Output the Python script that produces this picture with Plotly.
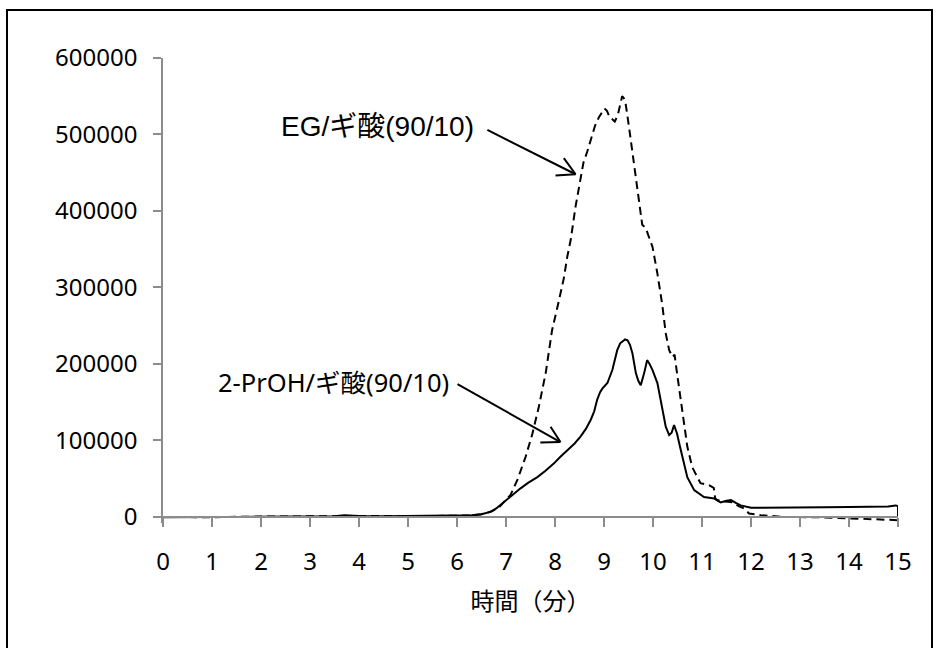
import plotly.graph_objects as go

# 2-PrOH/ギ酸(90/10) (solid)
t_proh = [0, 0.5, 1.0, 1.5, 2.0, 2.5, 3.0, 3.5, 3.7, 4.0, 4.5, 5.0, 5.5, 6.0, 6.3, 6.5,
          6.68, 6.8, 6.96, 7.1, 7.29, 7.45, 7.64, 7.8, 7.98, 8.1, 8.25, 8.4, 8.52, 8.63,
          8.73, 8.8, 8.86, 8.92, 8.97, 9.07, 9.17, 9.27, 9.33, 9.37, 9.43, 9.48, 9.53, 9.58,
          9.65, 9.70, 9.75, 9.82, 9.88, 9.93, 9.99, 10.09, 10.19, 10.26, 10.33, 10.38, 10.43,
          10.49, 10.55, 10.60, 10.70, 10.84, 11.04, 11.25, 11.38, 11.5, 11.59, 11.7, 11.79,
          12.0, 12.5, 13.0, 13.5, 14.0, 14.5, 14.8, 14.95, 15.0, 15.0]
v_proh = [-500, -800, -300, 0, 200, 500, 600, 800, 2000, 1000, 800, 1000, 1200, 1500, 2000, 3500,
          6500, 11000, 19600, 28000, 37000, 44500, 52000, 60000, 70000, 78000, 87000, 96000, 105000, 115000,
          127000, 138000, 153000, 163000, 168000, 175000, 192000, 218000, 227000, 229000, 232000, 231000, 225000, 214000,
          188000, 178000, 172000, 188000, 205000, 200000, 192000, 175000, 144000, 118000, 107000, 110000, 120000,
          109000, 92000, 78500, 52000, 35000, 26000, 24000, 19000, 21000, 22000, 18000, 15000,
          12000, 12000, 12300, 12500, 13000, 13000, 13500, 15000, 14000, -3000]

# EG/ギ酸(90/10) (dashed)
t_eg = [0, 0.5, 1, 1.5, 2, 2.5, 3, 3.5, 4, 4.5, 5, 5.5, 6, 6.3, 6.5, 6.7, 6.85, 6.96, 7.09, 7.23,
        7.40, 7.54, 7.67, 7.81, 7.94, 8.07, 8.18, 8.25, 8.32, 8.42, 8.52, 8.58, 8.66, 8.73, 8.82,
        8.90, 8.96, 9.01, 9.06, 9.12, 9.17, 9.22, 9.28, 9.33, 9.37, 9.40, 9.44, 9.51, 9.58, 9.65,
        9.71, 9.78, 9.85, 9.92, 9.99, 10.09, 10.19, 10.26, 10.33, 10.40, 10.44, 10.49, 10.56, 10.63,
        10.70, 10.80, 10.97, 11.14, 11.24, 11.27, 11.31, 11.45, 11.59, 11.75, 11.86, 11.96, 12.2,
        12.67, 13.35, 14.04, 14.5, 15.0]
v_eg = [0, -500, -600, 200, 500, 300, 800, 1000, 1500, 1200, 800, 1000, 1300, 1800, 3500, 7000, 12000, 19600, 28400, 48000,
        78500, 109000, 144000, 188000, 244000, 280000, 312000, 340000, 362000, 406000, 440000, 463000, 478000, 493000, 512000,
        523000, 530000, 534000, 531000, 522000, 520000, 517000, 525000, 540000, 550000, 548000, 541000, 510000, 476000, 445000,
        414000, 382000, 378000, 365000, 353000, 318000, 277000, 240000, 218000, 209000, 212000, 188000, 157000, 122000,
        92000, 65000, 44000, 41500, 38000, 24000, 22000, 20000, 19600, 14000, 11000, 4400, 2200,
        0, -500, -2000, -3000, -4300]

x_ticks = list(range(0, 16))
y_ticks = [0, 100000, 200000, 300000, 400000, 500000, 600000]
y_ticklabels = ["0", "100000", "200000", "300000", "400000", "500000", "600000"]

label_eg = "EG/ギ酸(90/10)"
label_proh = "2-PrOH/ギ酸(90/10)"
x_title = "時間（分）"

Y_MIN = -8000
Y_MAX = 600000

fig = go.Figure()
fig.add_trace(go.Scatter(x=t_eg, y=v_eg, mode="lines",
                         line=dict(color="black", width=2, dash="8px,5px"), showlegend=False))
fig.add_trace(go.Scatter(x=t_proh, y=v_proh, mode="lines",
                         line=dict(color="black", width=2), showlegend=False))

axis_gray = "#8c8c8c"
tick_font = dict(family="Noto Sans, Open Sans, sans-serif", size=24, color="black")

fig.update_layout(
    width=939, height=648,
    margin=dict(l=163, r=41, t=58, b=125),
    plot_bgcolor="white", paper_bgcolor="white",
    xaxis=dict(range=[0, 15], tickvals=x_ticks, ticktext=[str(v) for v in x_ticks],
               showgrid=False, zeroline=False, showline=True, linecolor=axis_gray, linewidth=1.5,
               ticks="outside", ticklen=9, tickcolor=axis_gray, tickwidth=1.5,
               anchor="free", position=(0 - Y_MIN) / (Y_MAX - Y_MIN),
               tickfont=tick_font, ticklabelstandoff=15,
               title=dict(text=x_title, font=dict(family="Noto Sans CJK JP", size=24, color="black"),
                          standoff=16)),
    yaxis=dict(range=[Y_MIN, Y_MAX], tickvals=y_ticks, ticktext=y_ticklabels,
               showgrid=False, zeroline=False, showline=True, linecolor=axis_gray, linewidth=1.5,
               ticks="outside", ticklen=8, tickcolor=axis_gray, tickwidth=1.5,
               tickfont=tick_font, ticklabelstandoff=11),
    font=dict(family="Noto Sans, Noto Sans CJK JP", color="black"),
)

# labels
fig.add_annotation(x=6.38, y=510000, xref="x", yref="y", text=label_eg, showarrow=False,
                   xanchor="right", yanchor="middle",
                   font=dict(family="Liberation Sans, Noto Sans CJK JP", size=28, color="black"))
fig.add_annotation(x=5.87, y=176000, xref="x", yref="y", text=label_proh, showarrow=False,
                   xanchor="right", yanchor="middle",
                   font=dict(family="Noto Sans, Noto Sans CJK JP", size=25.5, color="black"))

# arrows (line + open head)
arrows = [
    ((6.62, 506000), (8.42, 448000), (8.01, 446300), (8.18, 469000)),
    ((6.01, 173700), (8.11, 97800), (7.70, 97400), (7.91, 117800)),
]
for (s, tip, w1, w2) in arrows:
    for a in (s, w1, w2):
        fig.add_shape(type="line", xref="x", yref="y", x0=a[0], y0=a[1], x1=tip[0], y1=tip[1],
                      line=dict(color="black", width=2))

# outer frame
fig.add_shape(type="rect", xref="paper", yref="paper",
              x0=(7 - 163) / 735, x1=(932 - 163) / 735,
              y0=(523 - 700) / 465, y1=1 + (58 - 10) / 465,
              line=dict(color="black", width=2), fillcolor="rgba(0,0,0,0)", layer="below")

fig.write_html("out.html")
